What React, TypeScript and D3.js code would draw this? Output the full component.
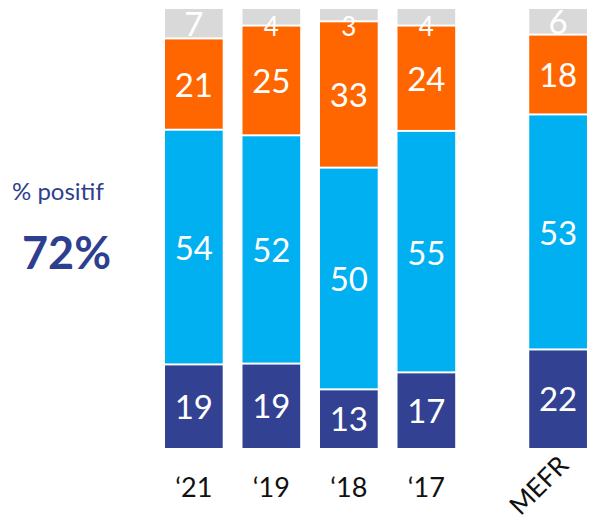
import React from "react";
import * as d3 from "d3";

const categories = ["\u201821", "\u201819", "\u201818", "\u201817", "MEFR"];
const seriesKeys = ["dark", "blue", "orange", "gray"];
const darkValues = [19, 19, 13, 17, 22];
const blueValues = [54, 52, 50, 55, 53];
const orangeValues = [21, 25, 33, 24, 18];
const grayValues = [7, 4, 3, 4, 6];
const colors: Record<string, string> = {
  dark: "#334192",
  blue: "#00B0F0",
  orange: "#FF6600",
  gray: "#D9D9D9",
};

const W = 593;
const H = 524;

export default function App() {
  const rows = categories.map((c, i) => ({
    cat: c,
    dark: darkValues[i],
    blue: blueValues[i],
    orange: orangeValues[i],
    gray: grayValues[i],
  }));
  const stack = d3.stack<any>().keys(seriesKeys).offset(d3.stackOffsetExpand);
  const series = stack(rows);

  const top = 9;
  const bottom = 448;
  const y = d3.scaleLinear().domain([0, 1]).range([bottom, top]);
  const step = 77.5;
  const barW = 57.7;
  const xIdx = (i: number) => (i < 4 ? i : i + 0.7);
  const x = d3.scaleLinear().domain([0, 1]).range([165, 165 + step]);

  return (
    <svg
      width={W}
      height={H}
      style={{ position: "absolute", left: 0, top: 0, background: "#fff" }}
      fontFamily="Lato, 'Open Sans', sans-serif"
    >
      <text x={12} y={200} fontSize={24} fill="#2E3F8F">
        % positif
      </text>
      <text x={22} y={269} fontSize={45} fontWeight={700} fill="#2E3F8F">
        72%
      </text>
      <g>
        {series.map((s) =>
          s.map((d, i) => {
            const x0 = x(xIdx(i));
            const y0 = y(d[1]);
            const y1 = y(d[0]);
            const gap = s.key === "dark" ? 0 : 2;
            return (
              <rect
                key={s.key + i}
                x={x0}
                y={y0}
                width={barW}
                height={Math.max(0, y1 - y0 - gap)}
                fill={colors[s.key]}
              />
            );
          })
        )}
        {series.map((s) =>
          s.map((d, i) => {
            const x0 = x(xIdx(i));
            const y0 = y(d[1]);
            const y1 = y(d[0]);
            const small = y1 - y0 < 22;
            return (
              <text
                key={"t" + s.key + i}
                x={x0 + barW / 2}
                y={small ? y0 + 14 : (y0 + y1) / 2}
                dy={small ? "0.5em" : "0.36em"}
                textAnchor="middle"
                fontSize={small ? 26 : 33}
                fill="#fff"
              >
                {(d.data as any)[s.key]}
              </text>
            );
          })
        )}
      </g>
      {categories.map((c, i) => {
        const cx = x(xIdx(i)) + barW / 2;
        if (i === 4) {
          return (
            <text
              key={"c" + i}
              transform={`translate(${cx + 12},${467}) rotate(-45)`}
              textAnchor="end"
              fontSize={26}
              fill="#111"
            >
              {c}
            </text>
          );
        }
        return (
          <text
            key={"c" + i}
            x={cx}
            y={497}
            textAnchor="middle"
            fontSize={27}
            fill="#111"
          >
            {c}
          </text>
        );
      })}
    </svg>
  );
}
